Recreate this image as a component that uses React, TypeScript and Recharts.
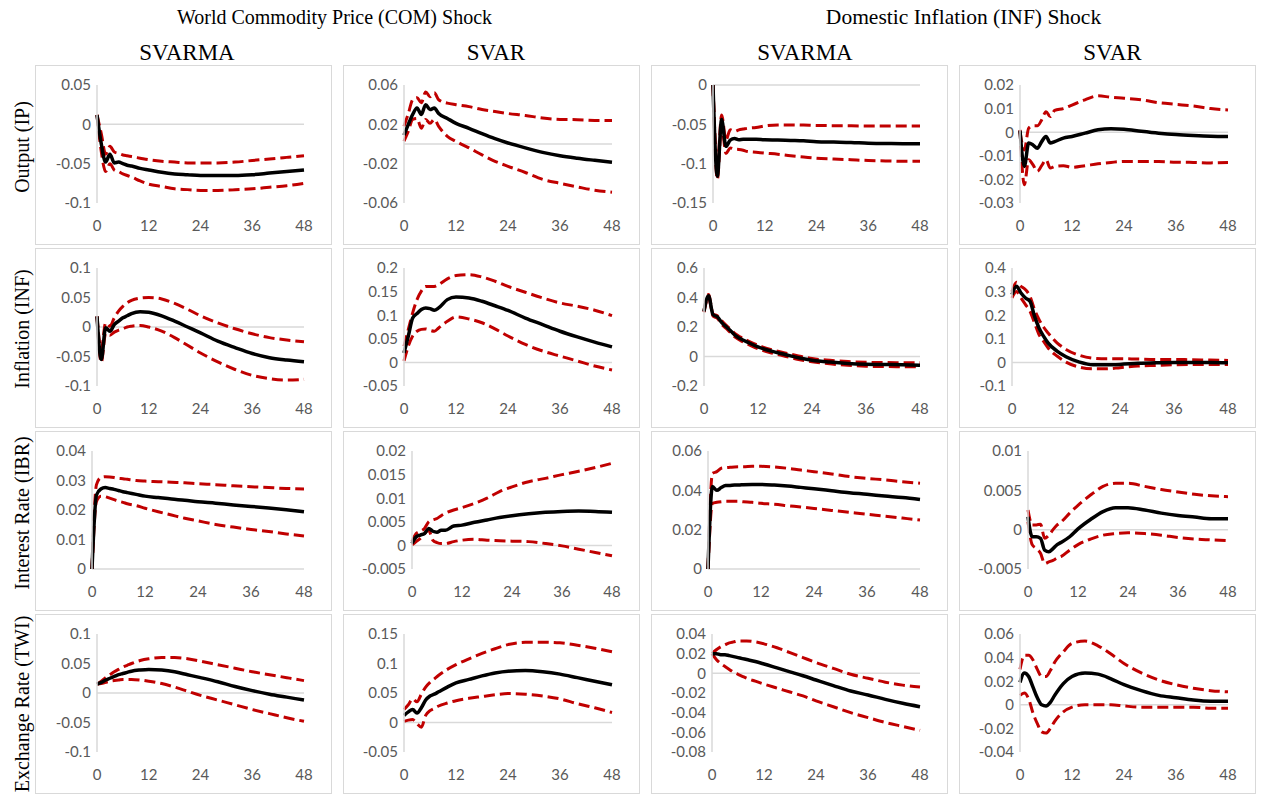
import React from 'react';
import { LineChart, Line, XAxis, YAxis, ReferenceLine } from 'recharts';

// ---------- categories / labels ----------
const horizons = [0, 1, 2, 3, 4, 5, 6, 7, 8, 10, 12, 15, 18, 21, 24, 28, 32, 36, 40, 44, 48];
const xTicks = [0, 12, 24, 36, 48];
const shockTitles = ['World Commodity Price (COM) Shock', 'Domestic Inflation (INF) Shock'];
const modelNames = ['SVARMA', 'SVAR', 'SVARMA', 'SVAR'];
const variableNames = ['Output (IP)', 'Inflation (INF)', 'Interest Rate (IBR)', 'Exchange Rate (TWI)'];

// ---------- y tick labels ----------
const yTicksR1C1 = [-0.1, -0.05, 0, 0.05];
const yTicksR1C2 = [-0.06, -0.02, 0.02, 0.06];
const yTicksR1C3 = [-0.15, -0.1, -0.05, 0];
const yTicksR1C4 = [-0.03, -0.02, -0.01, 0, 0.01, 0.02];
const yTicksR2C1 = [-0.1, -0.05, 0, 0.05, 0.1];
const yTicksR2C2 = [-0.05, 0, 0.05, 0.1, 0.15, 0.2];
const yTicksR2C3 = [-0.2, 0, 0.2, 0.4, 0.6];
const yTicksR2C4 = [-0.1, 0, 0.1, 0.2, 0.3, 0.4];
const yTicksR3C1 = [0, 0.01, 0.02, 0.03, 0.04];
const yTicksR3C2 = [-0.005, 0, 0.005, 0.01, 0.015, 0.02];
const yTicksR3C3 = [0, 0.02, 0.04, 0.06];
const yTicksR3C4 = [-0.005, 0, 0.005, 0.01];
const yTicksR4C1 = [-0.1, -0.05, 0, 0.05, 0.1];
const yTicksR4C2 = [-0.05, 0, 0.05, 0.1, 0.15];
const yTicksR4C3 = [-0.08, -0.06, -0.04, -0.02, 0, 0.02, 0.04];
const yTicksR4C4 = [-0.04, -0.02, 0, 0.02, 0.04, 0.06];

// ---------- Row 1: Output (IP) ----------
const ipComSvarmaIrf = [0.012, -0.025, -0.048, -0.038, -0.049, -0.048, -0.050, -0.052, -0.053, -0.056, -0.058, -0.061, -0.063, -0.064, -0.065, -0.065, -0.065, -0.064, -0.062, -0.060, -0.058];
const ipComSvarmaHi = [0.012, -0.012, -0.038, -0.028, -0.035, -0.037, -0.039, -0.040, -0.041, -0.043, -0.045, -0.047, -0.048, -0.049, -0.049, -0.049, -0.048, -0.046, -0.044, -0.042, -0.040];
const ipComSvarmaLo = [0.012, -0.035, -0.060, -0.050, -0.058, -0.060, -0.063, -0.065, -0.067, -0.072, -0.076, -0.079, -0.082, -0.083, -0.084, -0.084, -0.083, -0.082, -0.080, -0.078, -0.075];

const ipComSvarIrf = [0.009, 0.020, 0.030, 0.0365, 0.030, 0.040, 0.035, 0.0365, 0.031, 0.026, 0.021, 0.016, 0.0105, 0.0054, 0.001, -0.004, -0.0085, -0.012, -0.0145, -0.0166, -0.0186];
const ipComSvarHi = [0.018, 0.031, 0.045, 0.047, 0.042, 0.053, 0.048, 0.052, 0.045, 0.0416, 0.040, 0.038, 0.035, 0.033, 0.031, 0.029, 0.0264, 0.025, 0.0247, 0.024, 0.024];
const ipComSvarLo = [0.003, 0.013, 0.025, 0.026, 0.016, 0.025, 0.021, 0.025, 0.018, 0.0078, 0.0027, -0.004, -0.011, -0.0176, -0.0227, -0.029, -0.036, -0.040, -0.0436, -0.047, -0.049];

const ipInfSvarmaIrf = [0, -0.116, -0.044, -0.078, -0.070, -0.068, -0.0697, -0.069, -0.069, -0.069, -0.0697, -0.070, -0.0705, -0.071, -0.072, -0.0725, -0.073, -0.074, -0.0743, -0.0746, -0.0748];
const ipInfSvarmaHi = [0, -0.103, -0.038, -0.070, -0.057, -0.059, -0.057, -0.056, -0.055, -0.054, -0.052, -0.0507, -0.0507, -0.051, -0.0515, -0.0517, -0.0519, -0.052, -0.052, -0.052, -0.052];
const ipInfSvarmaLo = [0, -0.120, -0.051, -0.087, -0.080, -0.0815, -0.082, -0.083, -0.0845, -0.0855, -0.0866, -0.088, -0.090, -0.0915, -0.093, -0.094, -0.095, -0.096, -0.0965, -0.097, -0.097];

const ipInfSvarIrf = [0.0007, -0.0145, -0.0046, -0.0054, -0.0068, -0.004, -0.0018, -0.0046, -0.004, -0.0025, -0.0018, -0.0004, 0.001, 0.0015, 0.0013, 0.0004, -0.0004, -0.001, -0.0014, -0.0017, -0.0018];
const ipInfSvarHi = [0.0003, -0.0075, 0.0017, 0.0027, 0.0027, 0.0052, 0.0087, 0.0066, 0.0092, 0.010, 0.0115, 0.0137, 0.0154, 0.0148, 0.0144, 0.0137, 0.0125, 0.0118, 0.0111, 0.010, 0.0094];
const ipInfSvarLo = [0.001, -0.0223, -0.0117, -0.0138, -0.0166, -0.0142, -0.0117, -0.0152, -0.0145, -0.0142, -0.0149, -0.0142, -0.0134, -0.0128, -0.0124, -0.0124, -0.0124, -0.0127, -0.0128, -0.013, -0.0128];

// ---------- Row 2: Inflation (INF) ----------
const infComSvarmaIrf = [0.018, -0.055, -0.0014, -0.007, 0.004, 0.010, 0.0155, 0.019, 0.0228, 0.026, 0.025, 0.019, 0.010, 0, -0.010, -0.024, -0.035, -0.045, -0.052, -0.056, -0.059];
const infComSvarmaHi = [0.018, -0.038, 0.007, 0.0014, 0.0155, 0.027, 0.035, 0.041, 0.045, 0.049, 0.050, 0.0476, 0.040, 0.030, 0.019, 0.007, -0.003, -0.0115, -0.018, -0.022, -0.025];
const infComSvarmaLo = [0.018, -0.060, -0.011, -0.014, -0.0087, -0.0054, -0.003, 0, 0.0014, 0.0025, 0, -0.007, -0.018, -0.031, -0.044, -0.059, -0.072, -0.082, -0.0876, -0.090, -0.0887];

const infComSvarIrf = [0.020, 0.056, 0.094, 0.1035, 0.112, 0.1155, 0.114, 0.1106, 0.1155, 0.133, 0.1387, 0.1366, 0.1296, 0.120, 0.110, 0.094, 0.080, 0.066, 0.054, 0.043, 0.033];
const infComSvarHi = [0.0345, 0.070, 0.105, 0.133, 0.151, 0.161, 0.161, 0.161, 0.165, 0.177, 0.184, 0.186, 0.181, 0.172, 0.161, 0.1486, 0.1366, 0.126, 0.119, 0.1106, 0.099];
const infComSvarLo = [0.003, 0.0345, 0.056, 0.066, 0.070, 0.071, 0.068, 0.066, 0.073, 0.087, 0.0965, 0.092, 0.084, 0.071, 0.056, 0.038, 0.024, 0.0134, 0.003, -0.0077, -0.016];

const infInfSvarmaIrf = [0.306, 0.412, 0.284, 0.268, 0.228, 0.20, 0.171, 0.142, 0.122, 0.092, 0.065, 0.036, 0.0135, -0.009, -0.025, -0.038, -0.047, -0.052, -0.054, -0.056, -0.059];
const infInfSvarmaHi = [0.31, 0.42, 0.29, 0.275, 0.24, 0.21, 0.182, 0.153, 0.133, 0.103, 0.076, 0.046, 0.024, 0.004, -0.014, -0.026, -0.034, -0.039, -0.041, -0.042, -0.043];
const infInfSvarmaLo = [0.30, 0.40, 0.275, 0.258, 0.215, 0.188, 0.158, 0.130, 0.110, 0.080, 0.053, 0.024, 0.002, -0.020, -0.036, -0.050, -0.060, -0.066, -0.068, -0.069, -0.070];

const infInfSvarIrf = [0.287, 0.3225, 0.294, 0.273, 0.259, 0.196, 0.146, 0.111, 0.083, 0.048, 0.024, 0.0014, -0.01, -0.01, -0.0085, -0.004, -0.0014, 0, 0, 0, -0.0014];
const infInfSvarHi = [0.30, 0.34, 0.3225, 0.308, 0.28, 0.224, 0.182, 0.15, 0.125, 0.083, 0.055, 0.030, 0.018, 0.0155, 0.0155, 0.014, 0.0127, 0.0127, 0.011, 0.01, 0.0085];
const infInfSvarLo = [0.273, 0.30, 0.273, 0.245, 0.217, 0.168, 0.118, 0.090, 0.062, 0.027, 0.0014, -0.02, -0.027, -0.027, -0.0225, -0.0155, -0.0127, -0.01, -0.0085, -0.0085, -0.0085];

// ---------- Row 3: Interest Rate (IBR) ----------
const ibrComSvarmaIrf = [0, 0.025, 0.0271, 0.0276, 0.0273, 0.027, 0.0266, 0.0262, 0.0259, 0.0253, 0.0247, 0.0242, 0.0237, 0.0233, 0.0228, 0.0223, 0.0217, 0.0212, 0.0207, 0.0201, 0.0194];
const ibrComSvarmaHi = [0, 0.0285, 0.031, 0.0313, 0.0312, 0.031, 0.0307, 0.0306, 0.0304, 0.030, 0.0298, 0.0296, 0.0294, 0.0292, 0.0289, 0.0286, 0.0282, 0.0279, 0.0276, 0.0273, 0.0271];
const ibrComSvarmaLo = [0, 0.0228, 0.0247, 0.0245, 0.024, 0.0235, 0.023, 0.0226, 0.0221, 0.0215, 0.0206, 0.0194, 0.0183, 0.0172, 0.0163, 0.0151, 0.0142, 0.0134, 0.0127, 0.0119, 0.0112];

const ibrComSvarIrf = [0.0004, 0.0018, 0.0022, 0.0025, 0.0036, 0.003, 0.0028, 0.0032, 0.0032, 0.0041, 0.0043, 0.0049, 0.0054, 0.0059, 0.0063, 0.0067, 0.007, 0.0072, 0.0073, 0.0072, 0.007];
const ibrComSvarHi = [0.0008, 0.0025, 0.003, 0.0036, 0.005, 0.0054, 0.0057, 0.0063, 0.0068, 0.0075, 0.008, 0.0089, 0.010, 0.0114, 0.0124, 0.0135, 0.0142, 0.015, 0.0157, 0.0165, 0.0174];
const ibrComSvarLo = [0.0001, 0.0008, 0.0015, 0.0025, 0.0032, 0.0011, 0.0006, 0.0004, 0.0004, 0.0008, 0.0011, 0.0013, 0.0011, 0.001, 0.0009, 0.0008, 0.0004, -0.0001, -0.0008, -0.0015, -0.0022];

const ibrInfSvarmaIrf = [0, 0.0419, 0.040, 0.0414, 0.0424, 0.0425, 0.0427, 0.0427, 0.0429, 0.043, 0.043, 0.0427, 0.0422, 0.0415, 0.0408, 0.0398, 0.0388, 0.038, 0.0371, 0.0363, 0.0353];
const ibrInfSvarmaHi = [0, 0.0486, 0.0495, 0.0512, 0.0515, 0.0517, 0.0519, 0.052, 0.052, 0.0522, 0.0522, 0.0519, 0.0512, 0.0503, 0.0495, 0.0483, 0.047, 0.0461, 0.0453, 0.0444, 0.0436];
const ibrInfSvarmaLo = [0, 0.0334, 0.0339, 0.0342, 0.0344, 0.0344, 0.0344, 0.0344, 0.0342, 0.0339, 0.0334, 0.0329, 0.0322, 0.0315, 0.0308, 0.0298, 0.0288, 0.0278, 0.0269, 0.0259, 0.0249];

const ibrInfSvarIrf = [0.00165, -0.0009, -0.0009, -0.0011, -0.0026, -0.0028, -0.0024, -0.0019, -0.0016, -0.0009, 0.0001, 0.0013, 0.0023, 0.0028, 0.0028, 0.0025, 0.0021, 0.0018, 0.0016, 0.0014, 0.0014];
const ibrInfSvarHi = [0.0025, 0.0006, 0.0006, 0.0007, -0.0011, -0.0007, 0, 0.0006, 0.001, 0.0021, 0.0031, 0.0044, 0.0055, 0.0059, 0.0059, 0.0055, 0.0051, 0.0048, 0.0045, 0.0043, 0.0042];
const ibrInfSvarLo = [0.001, -0.0019, -0.0024, -0.003, -0.0043, -0.0041, -0.0039, -0.0036, -0.0034, -0.0026, -0.0019, -0.0012, -0.0007, -0.0005, -0.0004, -0.0005, -0.0007, -0.001, -0.0012, -0.0013, -0.0014];

// ---------- Row 4: Exchange Rate (TWI) ----------
const twiComSvarmaIrf = [0.015, 0.018, 0.022, 0.025, 0.028, 0.031, 0.033, 0.035, 0.037, 0.039, 0.040, 0.039, 0.036, 0.031, 0.026, 0.019, 0.011, 0.004, -0.002, -0.007, -0.012];
const twiComSvarmaHi = [0.015, 0.020, 0.026, 0.031, 0.036, 0.040, 0.044, 0.047, 0.050, 0.055, 0.058, 0.060, 0.060, 0.058, 0.054, 0.048, 0.042, 0.036, 0.031, 0.026, 0.021];
const twiComSvarmaLo = [0.015, 0.016, 0.018, 0.020, 0.021, 0.022, 0.023, 0.023, 0.023, 0.022, 0.020, 0.016, 0.010, 0.003, -0.004, -0.012, -0.020, -0.028, -0.035, -0.042, -0.048];

const twiComSvarIrf = [0.012, 0.018, 0.022, 0.016, 0.025, 0.038, 0.045, 0.048, 0.052, 0.060, 0.067, 0.073, 0.079, 0.084, 0.087, 0.088, 0.086, 0.082, 0.076, 0.070, 0.064];
const twiComSvarHi = [0.022, 0.030, 0.040, 0.035, 0.048, 0.060, 0.068, 0.074, 0.080, 0.090, 0.098, 0.108, 0.117, 0.125, 0.132, 0.136, 0.136, 0.135, 0.131, 0.126, 0.120];
const twiComSvarLo = [0.002, 0.004, 0.005, -0.002, -0.008, 0.012, 0.020, 0.024, 0.028, 0.033, 0.037, 0.041, 0.044, 0.047, 0.049, 0.048, 0.045, 0.040, 0.032, 0.025, 0.017];

const twiInfSvarmaIrf = [0.020, 0.020, 0.019, 0.019, 0.018, 0.017, 0.016, 0.015, 0.014, 0.012, 0.0095, 0.0055, 0.0015, -0.0025, -0.0068, -0.0125, -0.018, -0.022, -0.0265, -0.0305, -0.034];
const twiInfSvarmaHi = [0.020, 0.024, 0.027, 0.029, 0.031, 0.032, 0.033, 0.033, 0.033, 0.032, 0.030, 0.026, 0.021, 0.016, 0.011, 0.005, -0.001, -0.005, -0.009, -0.012, -0.014];
const twiInfSvarmaLo = [0.020, 0.014, 0.010, 0.007, 0.004, 0.001, -0.001, -0.003, -0.005, -0.008, -0.011, -0.015, -0.019, -0.023, -0.028, -0.034, -0.040, -0.045, -0.050, -0.054, -0.058];

const twiInfSvarIrf = [0.019, 0.027, 0.024, 0.015, 0.006, 0.0, -0.001, 0.002, 0.008, 0.018, 0.024, 0.027, 0.026, 0.022, 0.017, 0.012, 0.008, 0.006, 0.004, 0.003, 0.003];
const twiInfSvarHi = [0.030, 0.042, 0.042, 0.038, 0.030, 0.024, 0.024, 0.029, 0.036, 0.045, 0.052, 0.054, 0.050, 0.043, 0.035, 0.027, 0.021, 0.017, 0.014, 0.012, 0.011];
const twiInfSvarLo = [0.008, 0.010, 0.005, -0.007, -0.016, -0.023, -0.024, -0.020, -0.014, -0.006, -0.002, 0.0, 0.0, 0.0, -0.001, -0.002, -0.002, -0.002, -0.002, -0.003, -0.003];

// ---------- panel table (built from the arrays above) ----------
type PanelDef = { irf: number[]; hi: number[]; lo: number[]; yTicks: number[]; axisW: number };
const panels: PanelDef[][] = [
  [
    { irf: ipComSvarmaIrf, hi: ipComSvarmaHi, lo: ipComSvarmaLo, yTicks: yTicksR1C1, axisW: 62 },
    { irf: ipComSvarIrf, hi: ipComSvarHi, lo: ipComSvarLo, yTicks: yTicksR1C2, axisW: 61 },
    { irf: ipInfSvarmaIrf, hi: ipInfSvarmaHi, lo: ipInfSvarmaLo, yTicks: yTicksR1C3, axisW: 62 },
    { irf: ipInfSvarIrf, hi: ipInfSvarHi, lo: ipInfSvarLo, yTicks: yTicksR1C4, axisW: 61 },
  ],
  [
    { irf: infComSvarmaIrf, hi: infComSvarmaHi, lo: infComSvarmaLo, yTicks: yTicksR2C1, axisW: 62 },
    { irf: infComSvarIrf, hi: infComSvarHi, lo: infComSvarLo, yTicks: yTicksR2C2, axisW: 61 },
    { irf: infInfSvarmaIrf, hi: infInfSvarmaHi, lo: infInfSvarmaLo, yTicks: yTicksR2C3, axisW: 53 },
    { irf: infInfSvarIrf, hi: infInfSvarHi, lo: infInfSvarLo, yTicks: yTicksR2C4, axisW: 53 },
  ],
  [
    { irf: ibrComSvarmaIrf, hi: ibrComSvarmaHi, lo: ibrComSvarmaLo, yTicks: yTicksR3C1, axisW: 57 },
    { irf: ibrComSvarIrf, hi: ibrComSvarHi, lo: ibrComSvarLo, yTicks: yTicksR3C2, axisW: 69 },
    { irf: ibrInfSvarmaIrf, hi: ibrInfSvarmaHi, lo: ibrInfSvarmaLo, yTicks: yTicksR3C3, axisW: 57 },
    { irf: ibrInfSvarIrf, hi: ibrInfSvarHi, lo: ibrInfSvarLo, yTicks: yTicksR3C4, axisW: 69 },
  ],
  [
    { irf: twiComSvarmaIrf, hi: twiComSvarmaHi, lo: twiComSvarmaLo, yTicks: yTicksR4C1, axisW: 62 },
    { irf: twiComSvarIrf, hi: twiComSvarHi, lo: twiComSvarLo, yTicks: yTicksR4C2, axisW: 61 },
    { irf: twiInfSvarmaIrf, hi: twiInfSvarmaHi, lo: twiInfSvarmaLo, yTicks: yTicksR4C3, axisW: 61 },
    { irf: twiInfSvarIrf, hi: twiInfSvarHi, lo: twiInfSvarLo, yTicks: yTicksR4C4, axisW: 61 },
  ],
];

const COL_X = [35, 343, 651, 959];
const ROW_Y = [65, 248, 431, 614];
const PW = 297;
const PH = 180;
const RED = '#C00000';
const GRID = '#d9d9d9';
const TICK_FONT = { fontFamily: 'Lato, "Liberation Sans", sans-serif', fontSize: 15, fill: '#595959' };

function Panel({ def, left, top }: { def: PanelDef; left: number; top: number }) {
  const data = horizons.map((h, i) => ({ h, irf: def.irf[i], hi: def.hi[i], lo: def.lo[i] }));
  const yMin = def.yTicks[0];
  const yMax = def.yTicks[def.yTicks.length - 1];
  return (
    <div
      style={{
        position: 'absolute',
        left,
        top,
        width: PW,
        height: PH,
        border: `1px solid ${GRID}`,
        boxSizing: 'border-box',
        background: '#fff',
      }}
    >
      <LineChart width={PW - 2} height={PH - 2} data={data} margin={{ top: 19, right: 27, bottom: 0, left: 0 }}>
        <XAxis
          dataKey="h"
          type="number"
          domain={[0, 48]}
          ticks={xTicks}
          interval={0}
          axisLine={false}
          tickLine={false}
          tickSize={0}
          tickMargin={17}
          height={41}
          tick={TICK_FONT}
        />
        <YAxis
          type="number"
          domain={[yMin, yMax]}
          ticks={def.yTicks}
          interval={0}
          width={def.axisW - 1}
          axisLine={{ stroke: GRID, strokeWidth: 1.5 }}
          tickLine={false}
          tickSize={0}
          tickMargin={6}
          tick={TICK_FONT}
          tickFormatter={(v: number) => String(v)}
        />
        <ReferenceLine y={0} stroke={GRID} strokeWidth={1.5} />
        <Line type="monotone" dataKey="hi" stroke={RED} strokeWidth={3} strokeDasharray="11 5" dot={false} activeDot={false} isAnimationActive={false} />
        <Line type="monotone" dataKey="lo" stroke={RED} strokeWidth={3} strokeDasharray="11 5" dot={false} activeDot={false} isAnimationActive={false} />
        <Line type="monotone" dataKey="irf" stroke="#000" strokeWidth={3.5} dot={false} activeDot={false} isAnimationActive={false} />
      </LineChart>
    </div>
  );
}

export default function App() {
  const serif = '"Liberation Serif", "Times New Roman", serif';
  const headerX = [187, 496, 805, 1112.5];
  const rowLabelY = [147, 329, 513, 704];
  return (
    <div style={{ position: 'fixed', left: 0, top: 0, width: 1264, height: 794, background: '#fff', overflow: 'hidden' }}>
      <svg width={1264} height={794} style={{ position: 'absolute', left: 0, top: 0 }}>
        <text x={334.5} y={24} textAnchor="middle" fontFamily={serif} fontSize={20} fill="#000">{shockTitles[0]}</text>
        <text x={963.5} y={24} textAnchor="middle" fontFamily={serif} fontSize={21.5} fill="#000">{shockTitles[1]}</text>
        {modelNames.map((m, i) => (
          <text key={i} x={headerX[i]} y={60} textAnchor="middle" fontFamily={serif} fontSize={23} fill="#000">{m}</text>
        ))}
        {variableNames.map((v, i) => (
          <text
            key={i}
            x={0}
            y={0}
            transform={`translate(28.5, ${rowLabelY[i]}) rotate(-90)`}
            textAnchor="middle"
            fontFamily={serif}
            fontSize={20}
            fill="#000"
          >
            {v}
          </text>
        ))}
      </svg>
      {panels.map((row, r) =>
        row.map((def, c) => <Panel key={`${r}-${c}`} def={def} left={COL_X[c]} top={ROW_Y[r]} />)
      )}
    </div>
  );
}
